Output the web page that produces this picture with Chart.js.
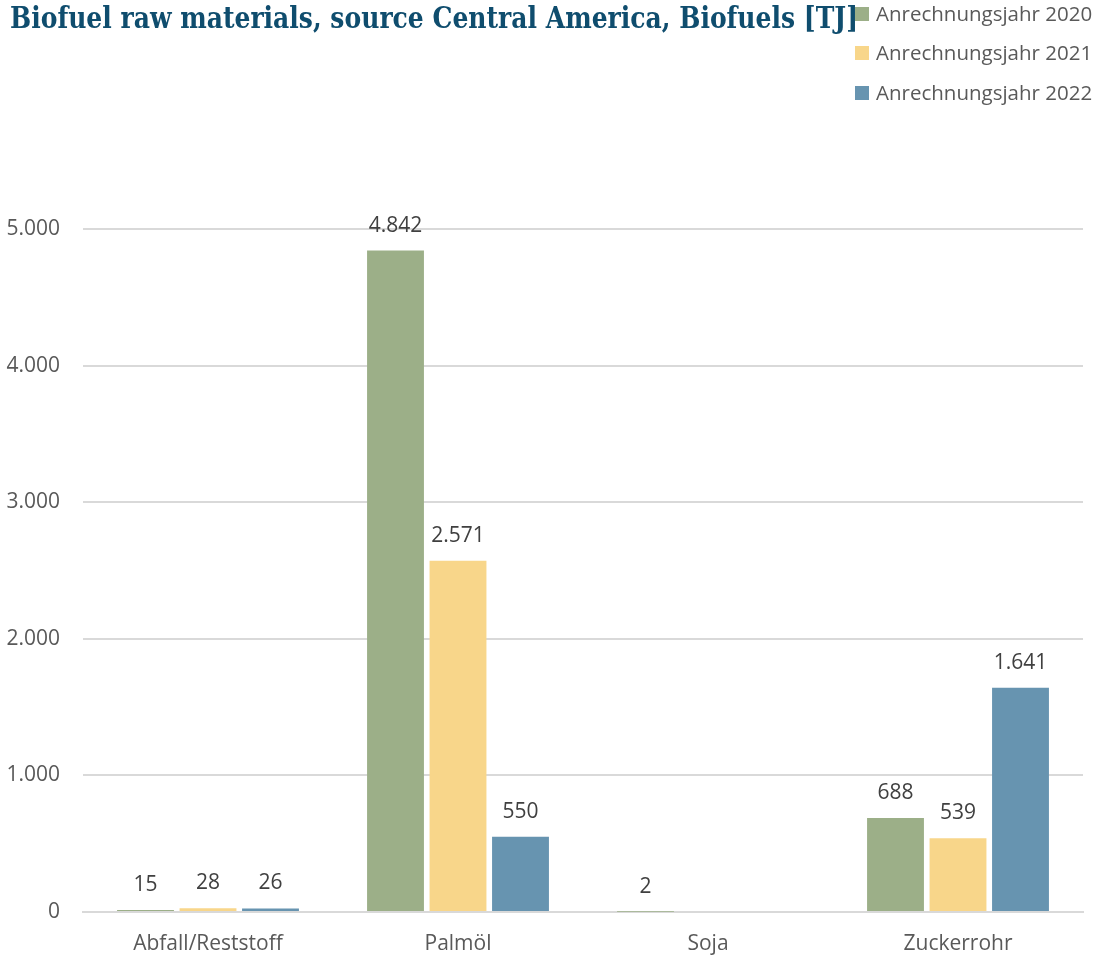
<!DOCTYPE html>
<html>
<head>
<meta charset="utf-8">
<script src="https://cdn.jsdelivr.net/npm/chart.js@4"></script>
<style>
html,body{margin:0;padding:0;background:#fff;}
#wrap{width:1096px;height:957px;}
</style>
</head>
<body>
<div id="wrap"><canvas id="c" width="1096" height="957"></canvas></div>
<script>
const titleText = 'Biofuel raw materials, source Central America, Biofuels [TJ]';
const categories = ['Abfall/Reststoff', 'Palmöl', 'Soja', 'Zuckerrohr'];
const seriesNames = ['Anrechnungsjahr 2020', 'Anrechnungsjahr 2021', 'Anrechnungsjahr 2022'];
const values2020 = [15, 4842, 2, 688];
const values2021 = [28, 2571, null, 539];
const values2022 = [26, 550, null, 1641];
const seriesColors = ['#9caf88', '#f8d68a', '#6794b0'];
const yTicks = [0, 1000, 2000, 3000, 4000, 5000];

const FONT = '"Open Sans", sans-serif';

function fmt(v) {
  return String(v).replace(/\B(?=(\d{3})+(?!\d))/g, '.');
}

const overlayPlugin = {
  id: 'overlay',
  afterDatasetsDraw(chart) {
    const ctx = chart.ctx;
    ctx.save();
    ctx.font = '21px ' + FONT;
    ctx.fillStyle = '#404040';
    ctx.textAlign = 'center';
    ctx.textBaseline = 'middle';
    chart.data.datasets.forEach((ds, di) => {
      const meta = chart.getDatasetMeta(di);
      meta.data.forEach((el, i) => {
        const v = ds.data[i];
        if (v === null || v === undefined) return;
        ctx.fillText(fmt(v), el.x, el.y - 25);
      });
    });
    ctx.restore();
  },
  afterDraw(chart) {
    const ctx = chart.ctx;
    ctx.save();
    // legend
    const rowsY = [14, 53, 93];
    ctx.font = '20.5px ' + FONT;
    ctx.textBaseline = 'middle';
    ctx.textAlign = 'left';
    chart.data.datasets.forEach((ds, i) => {
      ctx.fillStyle = ds.backgroundColor;
      ctx.fillRect(855, rowsY[i] - 7, 14, 14);
      ctx.fillStyle = '#595959';
      ctx.fillText(ds.label, 876, rowsY[i] + 1);
    });
    // title
    ctx.font = 'bold 30px "DejaVu Serif Condensed", "DejaVu Serif", serif';
    ctx.fillStyle = '#0f4d6e';
    ctx.textBaseline = 'alphabetic';
    const w = ctx.measureText(titleText).width;
    const target = 848;
    ctx.translate(10, 28);
    ctx.scale(target / w, 1);
    ctx.fillText(titleText, 0, 0);
    ctx.restore();
  }
};

new Chart(document.getElementById('c'), {
  type: 'bar',
  data: {
    labels: categories,
    datasets: [
      { label: seriesNames[0], data: values2020, backgroundColor: seriesColors[0] },
      { label: seriesNames[1], data: values2021, backgroundColor: seriesColors[1] },
      { label: seriesNames[2], data: values2022, backgroundColor: seriesColors[2] }
    ]
  },
  options: {
    responsive: false,
    animation: false,
    devicePixelRatio: 1,
    layout: { padding: { top: 229, right: 13, left: 0, bottom: 0 } },
    datasets: { bar: { categoryPercentage: 0.75, barPercentage: 0.91 } },
    plugins: {
      legend: { display: false },
      title: { display: false },
      tooltip: { enabled: false }
    },
    scales: {
      x: {
        grid: { display: false, drawTicks: false },
        border: { display: true, color: '#d9d9d9', width: 2 },
        ticks: { color: '#595959', font: { size: 21, family: FONT }, padding: 19 },
        afterFit(scale) { scale.height = 45; }
      },
      y: {
        min: 0,
        max: 5000,
        afterBuildTicks(scale) { scale.ticks = yTicks.map(v => ({ value: v })); },
        grid: { color: '#d9d9d9', lineWidth: 2, drawTicks: false },
        border: { display: false },
        ticks: {
          color: '#595959',
          font: { size: 21, family: FONT },
          padding: 23,
          callback: (v) => fmt(v)
        },
        afterFit(scale) { scale.width = 83; }
      }
    }
  },
  plugins: [overlayPlugin]
});
</script>
</body>
</html>
